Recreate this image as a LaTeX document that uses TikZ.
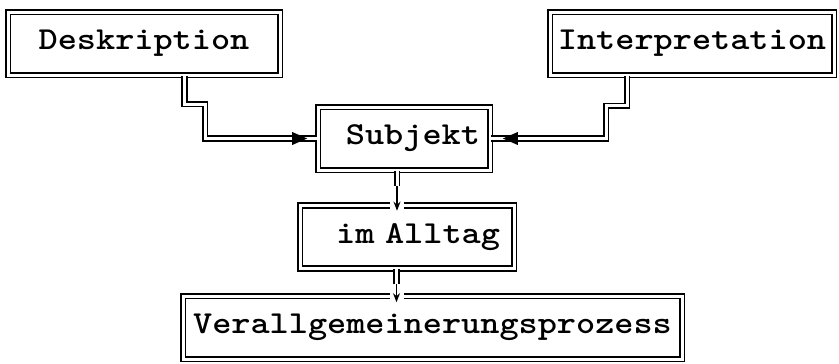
\documentclass[tikz,border=0pt]{standalone}
\usepackage{fontspec}
\newfontfamily\boxfont[FakeStretch=1.14, WordSpace=1.9]{lmmonolt10-bold.otf}
\usetikzlibrary{arrows.meta, decorations.markings}
\tikzstyle{box} = [rectangle, draw=black, double, line width=1.6pt, double distance=3pt, minimum height=63pt, inner xsep=6pt, text centered, font=\fontsize{32}{36}\selectfont\boxfont]
\tikzstyle{link} = [draw=black, double, line width=1.6pt, double distance=3pt]
\tikzstyle{arrow} = [->, >={Stealth[length=9pt, width=7pt]}, line width=1.6pt, preaction={draw=white, line width=14pt, -}]
\tikzset{tiphead/.style={postaction={decorate}, decoration={markings, mark=at position #1 with {\fill (0,0) -- (-15pt,6.5pt) -- (-15pt,-6.5pt) -- cycle;}}}}

\begin{document}
\begin{tikzpicture}[node distance=95pt]
\useasboundingbox (0,0) rectangle (839pt,-364pt);
\node (deskription) [box, minimum width=272pt] at (144pt,-43.5pt) {Deskription};
\node (interpretation) [box, minimum width=284pt, right of=deskription, xshift=453pt] {Interpretation};
\node (subjekt) [box, minimum width=172pt, text width=152pt, inner xsep=10pt, align=right, below of=deskription, xshift=260pt] {Subjekt};
\node (alltag) [box, minimum width=214pt, text width=186pt, inner xsep=14pt, align=right, below of=subjekt, xshift=3pt, yshift=-3.5pt] {im Alltag};
\node (verall) [box, minimum width=499pt, below of=alltag, xshift=25.5pt, yshift=4.5pt] {Verallgemeinerungsprozess};
\coordinate (s1) at ([xshift=-7pt, yshift=-15pt]subjekt.south);
\coordinate (s2) at ([xshift=-10.5pt, yshift=-14.75pt]alltag.south);
\draw [link, tiphead=-10pt] ([xshift=40.5pt]deskription.south) |- ++(20.5pt,-28.25pt) |- (subjekt.west);
\draw [link, tiphead=-12pt] ([xshift=-65pt]interpretation.south) |- ++(-21pt,-30pt) |- (subjekt.east);
\draw [link] ([xshift=-7pt]subjekt.south) -- (s1);
\draw [arrow] (s1) -- ([xshift=-10pt, yshift=-6pt]alltag.north);
\draw [link] ([xshift=-10.5pt]alltag.south) -- (s2);
\draw [arrow] (s2) -- ([xshift=-36pt, yshift=-7pt]verall.north);
\end{tikzpicture}
\end{document}
